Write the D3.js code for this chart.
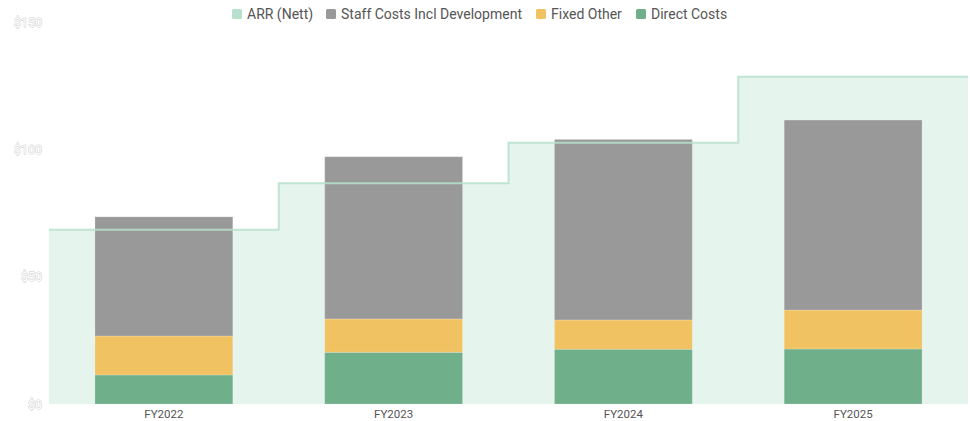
<!DOCTYPE html>
<html>
<head>
<meta charset="utf-8">
<script src="https://cdn.jsdelivr.net/npm/d3@7"></script>
<style>
  html, body { margin: 0; padding: 0; background: #fff; }
  svg { display: block; font-family: Roboto, "Open Sans", sans-serif; }
</style>
</head>
<body>
<div id="chart"></div>
<script>
const categories = ["FY2022", "FY2023", "FY2024", "FY2025"];
const directCosts = [11.4, 20.3, 21.5, 21.6];
const fixedOther = [15.3, 13.1, 11.5, 15.3];
const staffCosts = [46.8, 63.7, 70.9, 74.6];
const arrNett = [68.4, 86.7, 102.6, 128.5];
const yTicks = [0, 50, 100, 150];
const seriesNames = ["Direct Costs", "Fixed Other", "Staff Costs Incl Development"];
const legendNames = ["ARR (Nett)", "Staff Costs Incl Development", "Fixed Other", "Direct Costs"];
const colors = {
  "ARR (Nett)": "#b7e1cd",
  "Staff Costs Incl Development": "#999999",
  "Fixed Other": "#f0c262",
  "Direct Costs": "#6faf8a"
};

const W = 970, H = 421;
const svg = d3.select("#chart").append("svg").attr("width", W).attr("height", H);

const x = d3.scaleBand().domain(categories).range([49, 968]).paddingInner(0.4).paddingOuter(0.2);
const y = d3.scaleLinear().domain([0, 150]).range([404, 22]);

// ARR area (stepped, behind bars)
const stepPts = categories.map((c, i) => ({ x: x.range()[0] + i * x.step(), v: arrNett[i] }));
stepPts.push({ x: x.range()[1], v: arrNett[arrNett.length - 1] });

svg.append("path")
  .datum(stepPts)
  .attr("fill", "#e6f4ee")
  .attr("d", d3.area().x(d => d.x).y0(y(0)).y1(d => y(d.v)).curve(d3.curveStepAfter));

// Stacked bars
const rows = categories.map((c, i) => ({
  cat: c,
  "Direct Costs": directCosts[i],
  "Fixed Other": fixedOther[i],
  "Staff Costs Incl Development": staffCosts[i]
}));
const stacked = d3.stack().keys(seriesNames)(rows);

svg.append("g").selectAll("g")
  .data(stacked)
  .join("g")
  .attr("fill", d => colors[d.key])
  .selectAll("rect")
  .data(d => d)
  .join("rect")
  .attr("x", d => x(d.data.cat))
  .attr("width", x.bandwidth())
  .attr("y", d => y(d[1]))
  .attr("height", d => y(d[0]) - y(d[1]))
  .attr("stroke", "#ffffff")
  .attr("stroke-opacity", 0.2)
  .attr("stroke-width", 1);

// ARR line on top
svg.append("path")
  .datum(stepPts)
  .attr("fill", "none")
  .attr("stroke", "#b7e1cd")
  .attr("stroke-opacity", 0.85)
  .attr("stroke-width", 2)
  .attr("d", d3.line().x(d => d.x).y(d => y(d.v)).curve(d3.curveStepAfter));

// Y axis labels (outlined)
const yAxis = svg.append("g")
  .attr("transform", "translate(42,0)")
  .call(d3.axisLeft(y).tickValues(yTicks).tickFormat(d => "$" + d).tickSize(0).tickPadding(0));
yAxis.select(".domain").remove();
yAxis.selectAll("text")
  .attr("font-family", "Roboto, sans-serif")
  .attr("font-size", 12.5)
  .attr("fill", "#ffffff")
  .attr("stroke", "#cccccc")
  .attr("stroke-width", 1)
  .attr("paint-order", "stroke");

// X axis labels
const xAxis = svg.append("g")
  .attr("transform", "translate(0,404)")
  .call(d3.axisBottom(x).tickSize(0).tickPadding(6));
xAxis.select(".domain").remove();
xAxis.selectAll("text")
  .attr("font-family", "Roboto, sans-serif")
  .attr("font-size", 11.5)
  .attr("fill", "#555555");

// Legend
const legendX = [232, 326, 536, 636];
const legend = svg.append("g");
legendNames.forEach((n, i) => {
  const g = legend.append("g").attr("transform", `translate(${legendX[i]},14)`);
  g.append("rect").attr("x", 0).attr("y", -5).attr("width", 10).attr("height", 10)
    .attr("rx", 1.5).attr("fill", colors[n]);
  g.append("text").attr("x", 15).attr("y", 0).attr("dy", "0.35em")
    .attr("font-size", 14).attr("fill", "#555555").text(n);
});
</script>
</body>
</html>
